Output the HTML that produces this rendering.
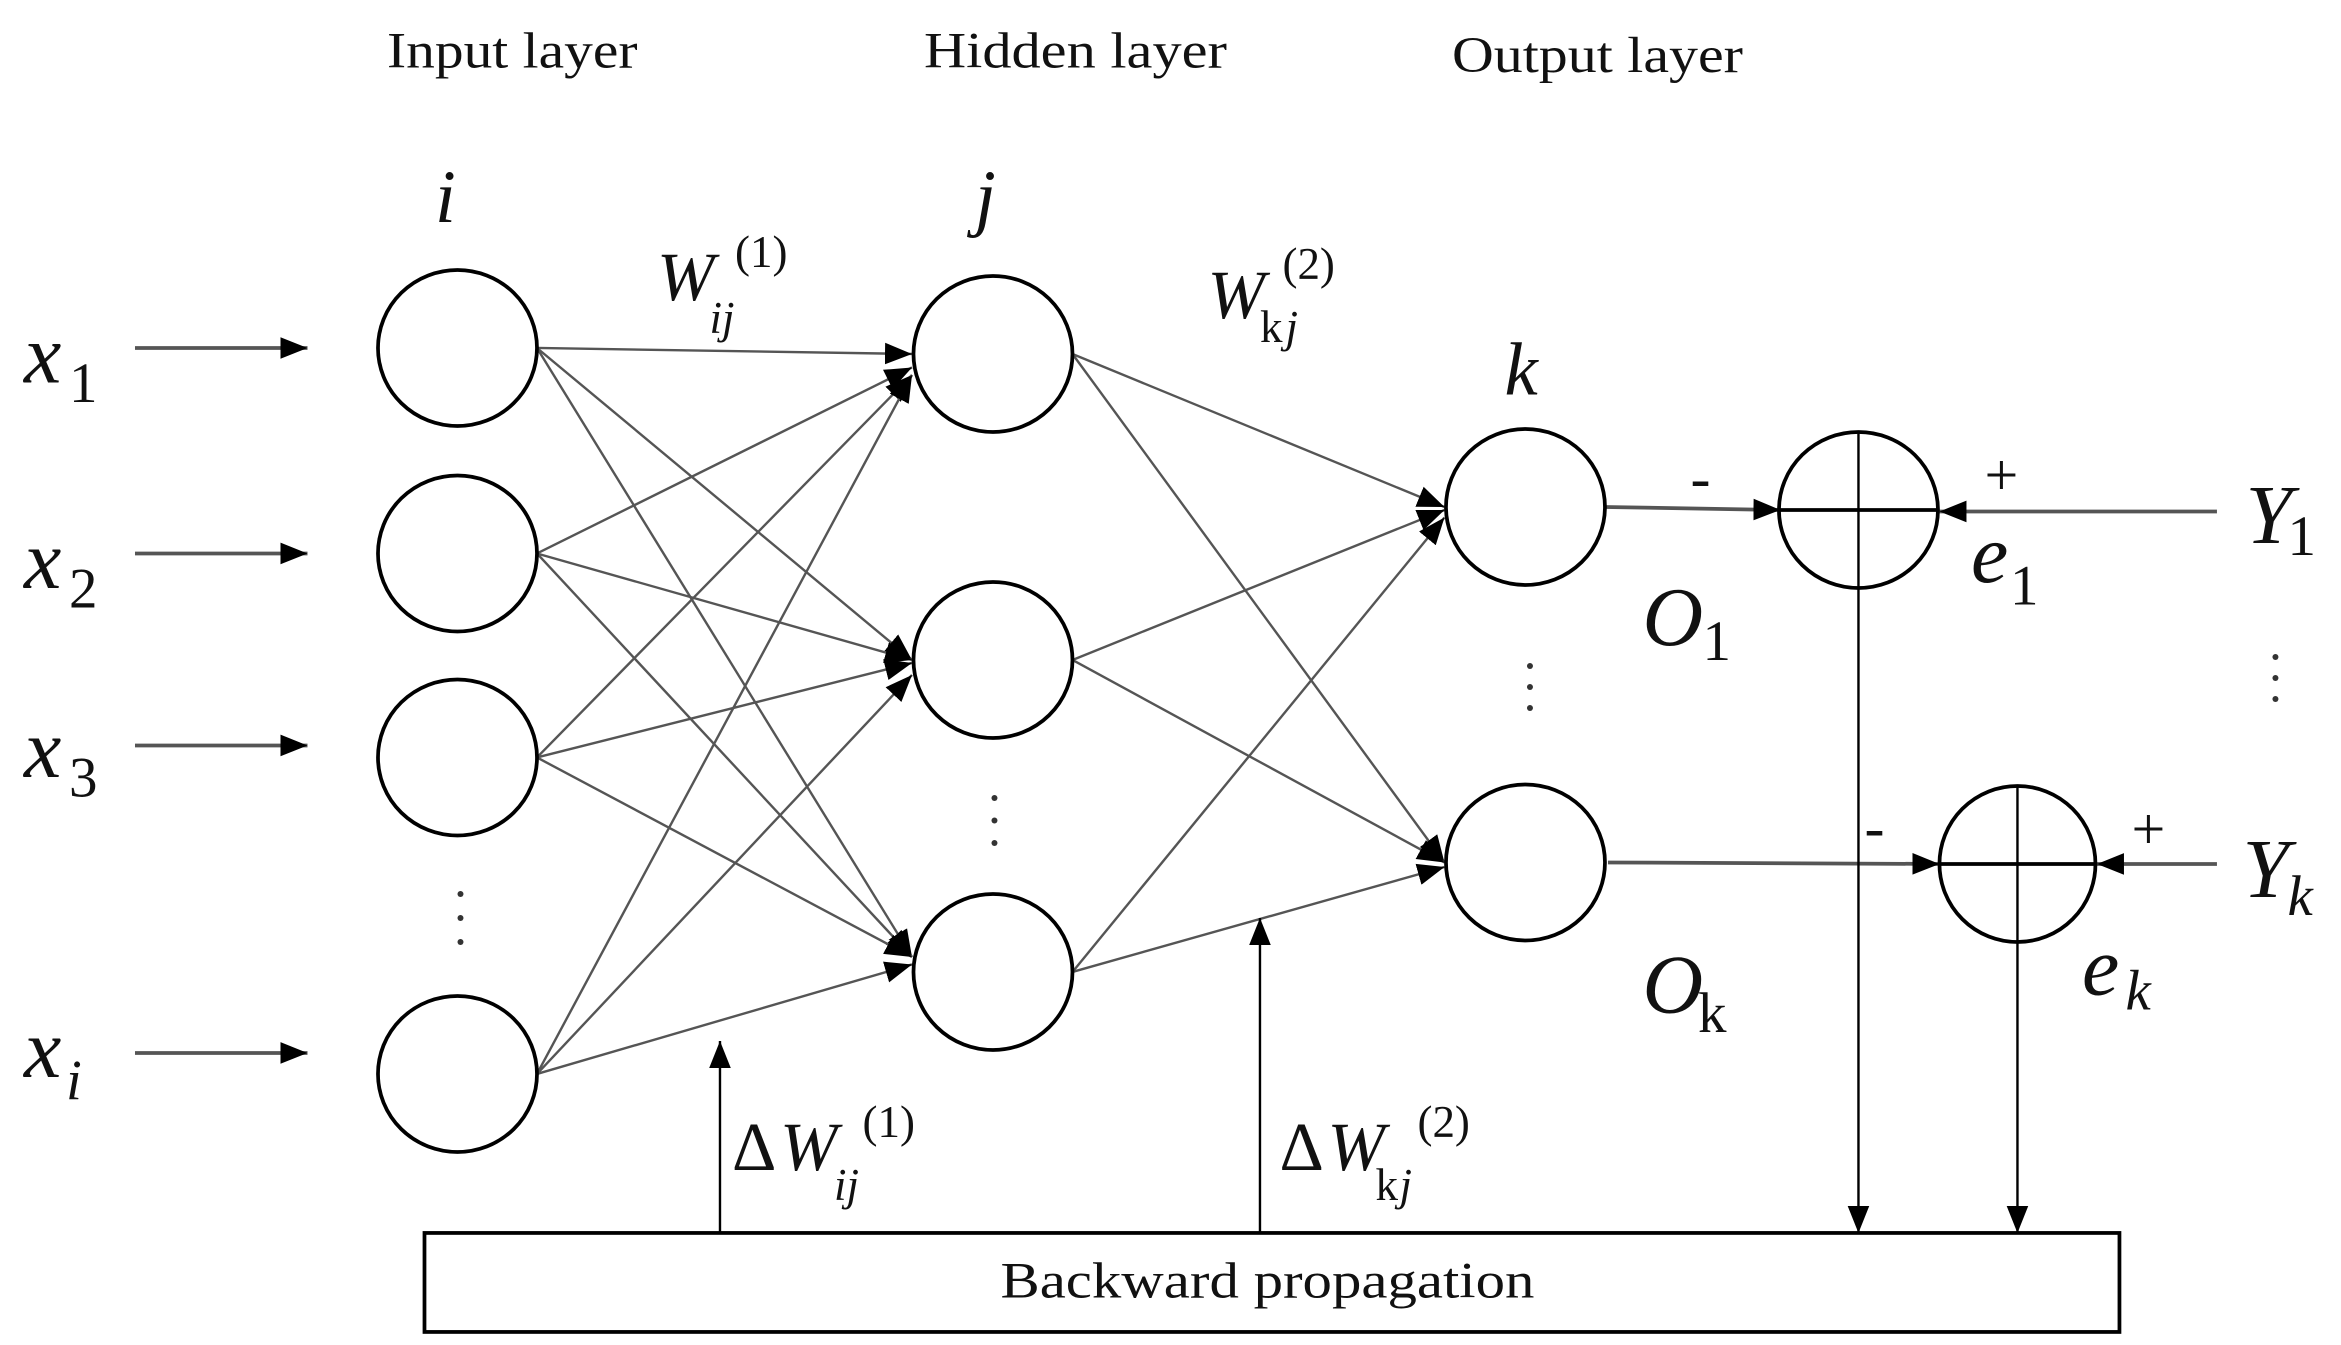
<!DOCTYPE html>
<html><head><meta charset="utf-8"><style>
html,body{margin:0;padding:0;background:#fff;}
svg{display:block;}
.t{font-family:"Liberation Serif",serif;font-size:34px;fill:#111;}
.m{font-family:"Liberation Serif",serif;font-style:italic;fill:#111;}
.n{font-family:"Liberation Serif",serif;fill:#111;}
</style></head><body>
<svg width="2341" height="1345" viewBox="0 0 1560.7 896.7" preserveAspectRatio="none" xmlns="http://www.w3.org/2000/svg">
<defs>
<marker id="b" viewBox="0 0 10 10" refX="10" refY="5" markerWidth="18" markerHeight="18" markerUnits="userSpaceOnUse" orient="auto"><path d="M0,1 L10,5 L0,9 z" fill="#000"/></marker>
</defs>
<text class="t" x="258" y="45" textLength="167" lengthAdjust="spacingAndGlyphs">Input layer</text>
<text class="t" x="616" y="45" textLength="202" lengthAdjust="spacingAndGlyphs">Hidden layer</text>
<text class="t" x="968" y="48" textLength="194" lengthAdjust="spacingAndGlyphs">Output layer</text>
<text class="m" x="290" y="148" font-size="50">i</text>
<text class="m" x="650" y="148" font-size="50">j</text>
<text class="m" x="1003" y="263" font-size="50">k</text>
<g stroke="#555" stroke-width="1.6" fill="none" marker-end="url(#b)">
<line x1="358" y1="232" x2="608" y2="236"/><line x1="358" y1="232" x2="608" y2="440"/><line x1="358" y1="232" x2="608" y2="638"/>
<line x1="358" y1="369" x2="608" y2="245"/><line x1="358" y1="369" x2="608" y2="440"/><line x1="358" y1="369" x2="608" y2="638"/>
<line x1="358" y1="505" x2="608" y2="250"/><line x1="358" y1="505" x2="608" y2="442"/><line x1="358" y1="505" x2="608" y2="638"/>
<line x1="358" y1="716" x2="608" y2="250"/><line x1="358" y1="716" x2="608" y2="450"/><line x1="358" y1="716" x2="608" y2="643"/>
<line x1="715" y1="236" x2="963" y2="338"/><line x1="715" y1="236" x2="963" y2="575"/>
<line x1="715" y1="440" x2="963" y2="340"/><line x1="715" y1="440" x2="963" y2="575"/>
<line x1="715" y1="648" x2="963" y2="345"/><line x1="715" y1="648" x2="963" y2="578"/>
</g>
<g stroke="#555" stroke-width="2.5" marker-end="url(#b)">
<line x1="90" y1="232" x2="205" y2="232"/><line x1="90" y1="369" x2="205" y2="369"/>
<line x1="90" y1="497" x2="205" y2="497"/><line x1="90" y1="702" x2="205" y2="702"/>
<line x1="1070" y1="338" x2="1187" y2="340"/><line x1="1478" y1="341" x2="1293" y2="341"/>
<line x1="1072" y1="575" x2="1293" y2="576"/><line x1="1478" y1="576" x2="1398" y2="576"/>
</g>
<g stroke="#000" stroke-width="2.5" fill="#fff">
<ellipse cx="305" cy="232" rx="53" ry="52"/><ellipse cx="305" cy="369" rx="53" ry="52"/>
<ellipse cx="305" cy="505" rx="53" ry="52"/><ellipse cx="305" cy="716" rx="53" ry="52"/>
<ellipse cx="662" cy="236" rx="53" ry="52"/><ellipse cx="662" cy="440" rx="53" ry="52"/>
<ellipse cx="662" cy="648" rx="53" ry="52"/>
<ellipse cx="1017" cy="338" rx="53" ry="52"/><ellipse cx="1017" cy="575" rx="53" ry="52"/>
<ellipse cx="1239" cy="340" rx="53" ry="52"/><ellipse cx="1345" cy="576" rx="52" ry="52"/>
</g>
<g stroke="#000" stroke-width="2.5">
<line x1="1186" y1="340" x2="1292" y2="340"/><line x1="1293" y1="576" x2="1397" y2="576"/>
</g>
<g stroke="#000" stroke-width="1.6" fill="none">
<line x1="1239" y1="288" x2="1239" y2="392"/><line x1="1345" y1="524" x2="1345" y2="628"/>
</g>
<g stroke="#000" stroke-width="1.6" marker-end="url(#b)">
<line x1="1239" y1="392" x2="1239" y2="822"/><line x1="1345" y1="628" x2="1345" y2="822"/>
<line x1="480" y1="822" x2="480" y2="694"/><line x1="840" y1="822" x2="840" y2="612"/>
</g>
<rect x="283" y="822" width="1130" height="66" fill="#fff" stroke="#000" stroke-width="2.5"/>
<text class="t" x="845" y="865" text-anchor="middle" textLength="356" lengthAdjust="spacingAndGlyphs">Backward propagation</text>
<g fill="#333">
<circle cx="307" cy="596" r="2"/><circle cx="307" cy="612" r="2"/><circle cx="307" cy="628" r="2"/>
<circle cx="663" cy="532" r="2"/><circle cx="663" cy="547" r="2"/><circle cx="663" cy="562" r="2"/>
<circle cx="1020" cy="444" r="2"/><circle cx="1020" cy="458" r="2"/><circle cx="1020" cy="472" r="2"/>
<circle cx="1517" cy="438" r="2"/><circle cx="1517" cy="452" r="2"/><circle cx="1517" cy="466" r="2"/>
</g>
<g class="m" font-size="56">
<text x="16" y="255">x</text><text x="16" y="392">x</text><text x="16" y="518">x</text><text x="16" y="718">x</text>
<text x="1497" y="362">Y</text><text x="1495" y="598">Y</text>
<text x="1314" y="388">e</text><text x="1388" y="663">e</text>
<text x="1095" y="430">O</text><text x="1095" y="675">O</text>
<text x="438" y="200" font-size="46">W</text><text x="805" y="212" font-size="46">W</text>
<text x="520" y="780" font-size="46">W</text><text x="885" y="780" font-size="46">W</text>
</g>
<g class="n" font-size="46">
<text x="488" y="780">Δ</text><text x="853" y="780">Δ</text>
</g>
<g class="n" font-size="38">
<text x="46" y="268">1</text><text x="46" y="405">2</text><text x="46" y="531">3</text>
<text x="1525" y="370">1</text><text x="1340" y="403">1</text><text x="1135" y="440">1</text>
<text x="1132" y="688">k</text>
</g>
<g class="n" font-size="30">
<text x="490" y="178">(1)</text><text x="855" y="186">(2)</text>
<text x="575" y="758">(1)</text><text x="945" y="758">(2)</text>
<text x="840" y="228">k</text><text x="917" y="800">k</text>
</g>
<g class="m" font-size="38">
<text x="44" y="733">i</text><text x="1525" y="610">k</text><text x="1417" y="673">k</text>
</g>
<g class="m" font-size="30">
<text x="473" y="222">ij</text><text x="857" y="228">j</text>
<text x="556" y="800">ij</text><text x="933" y="800">j</text>
</g>
<g class="n" font-size="40">
<text x="1127" y="332">-</text><text x="1243" y="565">-</text>
<text x="1323" y="330">+</text><text x="1421" y="566">+</text>
</g>
</svg>
</body></html>
